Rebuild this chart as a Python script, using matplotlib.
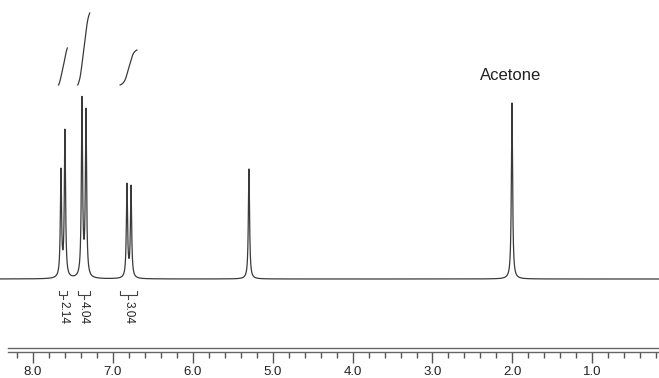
import numpy as np
import matplotlib.pyplot as plt
from matplotlib.ticker import MultipleLocator

plt.rcParams['font.family'] = ['Liberation Sans', 'DejaVu Sans']

# peak list (ppm, height in pixels above baseline)
shifts = [7.650, 7.600, 7.387, 7.337, 6.824, 6.773, 5.297, 2.005]
heights = [106, 146, 177, 165, 93, 91, 110, 176]
line_width = 0.009  # half width at half height, ppm

# integral regions (ppm from, ppm to), step heights in pixels, labels
int_regions = [(7.68, 7.57), (7.44, 7.29), (6.91, 6.70)]
int_heights = [37, 72, 35]
int_labels = ["2.14", "4.04", "3.04"]

baseline = 279
int_base = 85
x_left, x_right = 8.413, 0.165

W, H = 659, 378
fig = plt.figure(figsize=(W / 100, H / 100), dpi=100)
ax = fig.add_axes([0, 0, 1, 1])
ax.set_xlim(x_left, x_right)
ax.set_ylim(H, 0)
ax.axis("off")

# spectrum as a sum of lorentzian lines
ppm = np.linspace(x_left, x_right, 40000)
spec = np.zeros_like(ppm)
for s, h in zip(shifts, heights):
    spec += h / (1 + ((ppm - s) / line_width) ** 2)
ax.plot(ppm, baseline - spec, color="#3a3a3a", lw=0.9)

# integral curves (smoothed cumulative of each region)
for (a, b), step, lab in zip(int_regions, int_heights, int_labels):
    xs = np.linspace(a, b, 400)
    y = np.zeros_like(xs)
    for s, h in zip(shifts, heights):
        if b <= s <= a:
            y += h / (1 + ((xs - s) / 0.03) ** 2)
    cum = np.cumsum(y)
    cum = (cum - cum[0]) / (cum[-1] - cum[0])
    ax.plot(xs, int_base - step * cum, color="#3a3a3a", lw=0.9)

    # bracket and value underneath
    mid = (a + b) / 2
    ax.plot([a, a, b, b], [291, 295, 295, 291], color="#444", lw=0.8)
    ax.plot([mid, mid], [295, 299], color="#444", lw=0.8)
    ax.text(mid, 301, lab, rotation=270, ha="center", va="top",
            fontsize=8.5, color="#222")

ax.text(2.02, 75, "Acetone", ha="center", va="center", fontsize=12, color="#222")

# ppm ruler
left = 8 / W
rax = fig.add_axes([left, 1 - 352 / H, 1 - left, 4 / H])
rax.set_xlim(x_left - (x_left - x_right) * 8 / W, x_right)
rax.set_yticks([])
for side in ["left", "right"]:
    rax.spines[side].set_visible(False)
for side in ["top", "bottom"]:
    rax.spines[side].set_color("#666")
    rax.spines[side].set_linewidth(1.0)
rax.patch.set_alpha(0)
rax.xaxis.set_major_locator(MultipleLocator(1.0))
rax.xaxis.set_minor_locator(MultipleLocator(0.2))
rax.xaxis.set_major_formatter(lambda v, p: f"{v:.1f}" if v > 0.5 else "")
rax.tick_params(axis="x", which="major", length=8, width=1, color="#555",
                labelsize=9.5, pad=2, labelcolor="#222")
rax.tick_params(axis="x", which="minor", length=4, width=1, color="#555")

fig.savefig("out.png", dpi=100)
